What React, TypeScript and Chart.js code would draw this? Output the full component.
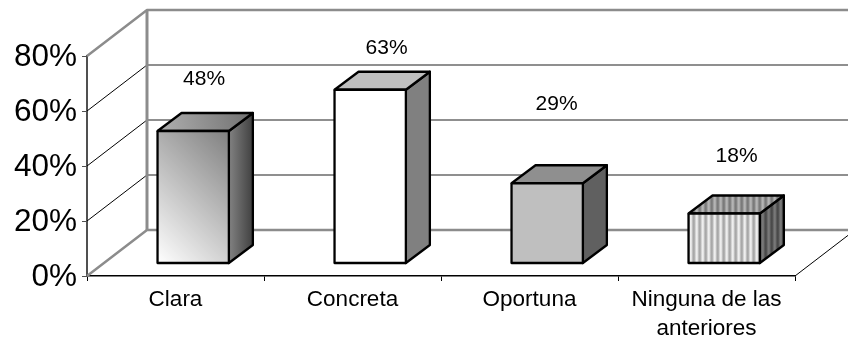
import { useEffect, useRef } from "react";
import { Chart, registerables } from "chart.js";

Chart.register(...registerables);

const categories = ["Clara", "Concreta", "Oportuna", ["Ninguna de las", "anteriores"]];
const values = [48, 63, 29, 18];
const valueLabels = ["48%", "63%", "29%", "18%"];
const yTicks = [0, 20, 40, 60, 80];

// Hand-placed offsets of the value captions, measured from each bar's front top-left corner.
const captionDx = [46.5, 52, 45, 48];
const captionDy = [-52, -42, -79, -57];

const FONT = '"Liberation Sans", Arial, sans-serif';
const WALL = { dx: 60, dy: -46 };
const BAR_SHIFT = { dx: 17.7, dy: -13 };
const BAR_DEPTH = { dx: 24, dy: -18 };
const CATEGORY_SHARE = 0.403;
const EDGE_WIDTH = 2.3;

type Ctx = CanvasRenderingContext2D;
type Box = { l: number; r: number; t: number; b: number };
type Fill = string | CanvasGradient | CanvasPattern;

function stripes(ctx: Ctx, a: string, b: string, c: string): CanvasPattern {
  const tile = document.createElement("canvas");
  tile.width = 6;
  tile.height = 1;
  const t = tile.getContext("2d")!;
  [a, a, b, c, c, b].forEach((color, i) => {
    t.fillStyle = color;
    t.fillRect(i, 0, 1, 1);
  });
  return ctx.createPattern(tile, "repeat")!;
}

function frontFill(ctx: Ctx, i: number, box: Box): Fill {
  if (i === 0) {
    const reach = (box.r - box.l + box.b - box.t) / 2;
    const g = ctx.createLinearGradient(box.l, box.b, box.l + reach, box.b - reach);
    g.addColorStop(0, "#ffffff");
    g.addColorStop(1, "#808080");
    return g;
  }
  if (i === 1) return "#ffffff";
  if (i === 2) return "#bfbfbf";
  return stripes(ctx, "#eeeeee", "#c8c8c8", "#a8a8a8");
}

function topFill(ctx: Ctx, i: number, box: Box): Fill {
  if (i === 0) {
    const g = ctx.createLinearGradient(box.l, box.t, box.r + BAR_DEPTH.dx, box.t + BAR_DEPTH.dy);
    g.addColorStop(0, "#b0b0b0");
    g.addColorStop(1, "#707070");
    return g;
  }
  if (i === 1) return "#bfbfbf";
  if (i === 2) return "#8f8f8f";
  return stripes(ctx, "#b4b4b4", "#959595", "#7a7a7a");
}

function sideFill(ctx: Ctx, i: number, box: Box): Fill {
  if (i === 0) {
    const g = ctx.createLinearGradient(box.r, 0, box.r + BAR_DEPTH.dx, 0);
    g.addColorStop(0, "#828282");
    g.addColorStop(1, "#404040");
    return g;
  }
  if (i === 1) return "#808080";
  if (i === 2) return "#606060";
  return stripes(ctx, "#787878", "#606060", "#4a4a4a");
}

function polygon(ctx: Ctx, pts: number[][], fill: Fill | null, stroke: string, width: number) {
  ctx.beginPath();
  pts.forEach(([x, y], i) => (i ? ctx.lineTo(x, y) : ctx.moveTo(x, y)));
  if (fill) {
    ctx.closePath();
    ctx.fillStyle = fill;
    ctx.fill();
  }
  ctx.lineWidth = width;
  ctx.strokeStyle = stroke;
  ctx.lineJoin = "round";
  ctx.stroke();
}

// Bar rectangle in canvas pixels, taken from the chart's own scales.
function boxFromScales(chart: any, i: number): Box {
  const { x, y } = chart.scales;
  const cx = x.getPixelForValue(i);
  const half = (x.width / categories.length) * CATEGORY_SHARE / 2;
  return { l: cx - half, r: cx + half, t: y.getPixelForValue(values[i]), b: y.getPixelForValue(0) };
}

// The back wall, side wall and floor edges, derived from the value scale.
const wallsPlugin = {
  id: "walls",
  beforeDatasetsDraw(chart: any) {
    const { ctx, scales, chartArea, width } = chart;
    const y = scales.y;
    const left = chartArea.left;
    const right = chartArea.right;
    const backLeft = left + WALL.dx;

    ctx.save();
    yTicks.forEach((v) => {
      const py = y.getPixelForValue(v);
      if (v !== 0 && v !== 80) {
        polygon(ctx, [[left, py], [backLeft, py + WALL.dy]], null, "#000000", 1);
        polygon(ctx, [[backLeft, py + WALL.dy], [width, py + WALL.dy]], null, "#6a6a6a", 1.5);
      }
    });
    const y0 = y.getPixelForValue(0);
    const y80 = y.getPixelForValue(80);
    polygon(ctx, [[left, y80], [backLeft, y80 + WALL.dy], [width, y80 + WALL.dy]], null, "#8c8c8c", 2.5);
    polygon(ctx, [[left, y0], [backLeft, y0 + WALL.dy], [width, y0 + WALL.dy]], null, "#8c8c8c", 2.5);
    polygon(ctx, [[backLeft, y80 + WALL.dy], [backLeft, y0 + WALL.dy]], null, "#8c8c8c", 3);
    polygon(ctx, [[right, y0], [width, y0 - ((width - right) * 46) / 60]], null, "#000000", 1);
    ctx.restore();
  },
};

// Draws the depth faces of every bar and moves the library's bars back onto the floor.
const depthPlugin = {
  id: "depth",
  beforeDatasetDraw(chart: any, args: any) {
    const { ctx } = chart;
    const { dx, dy } = BAR_DEPTH;
    ctx.save();
    ctx.translate(BAR_SHIFT.dx, BAR_SHIFT.dy);
    args.meta.data.forEach((_el: any, i: number) => {
      const box = boxFromScales(chart, i);
      polygon(ctx, [[box.r, box.t], [box.r + dx, box.t + dy], [box.r + dx, box.b + dy], [box.r, box.b]], sideFill(ctx, i, box), "#000000", EDGE_WIDTH);
      polygon(ctx, [[box.l, box.t], [box.l + dx, box.t + dy], [box.r + dx, box.t + dy], [box.r, box.t]], topFill(ctx, i, box), "#000000", EDGE_WIDTH);
    });
  },
  afterDatasetDraw(chart: any, args: any) {
    const { ctx } = chart;
    args.meta.data.forEach((_el: any, i: number) => {
      const box = boxFromScales(chart, i);
      polygon(ctx, [[box.l, box.t], [box.r, box.t], [box.r, box.b], [box.l, box.b], [box.l, box.t]], null, "#000000", EDGE_WIDTH);
    });
    ctx.restore();
    ctx.save();
    ctx.fillStyle = "#000000";
    ctx.font = `21px ${FONT}`;
    ctx.textAlign = "center";
    ctx.textBaseline = "middle";
    args.meta.data.forEach((_el: any, i: number) => {
      const box = boxFromScales(chart, i);
      ctx.fillText(valueLabels[i], box.l + BAR_SHIFT.dx + captionDx[i], box.t + BAR_SHIFT.dy + captionDy[i]);
    });
    ctx.restore();
  },
};

export default function App() {
  const ref = useRef<HTMLCanvasElement>(null);

  useEffect(() => {
    const chart = new Chart(ref.current!, {
      type: "bar",
      data: {
        labels: categories as any,
        datasets: [
          {
            data: values,
            barPercentage: 1,
            categoryPercentage: CATEGORY_SHARE,
            borderWidth: 0,
            clip: false as any,
            backgroundColor: (c: any) => {
              if (c.type !== "data") return "#ffffff";
              const box = boxFromScales(c.chart, c.dataIndex);
              if (![box.l, box.r, box.t, box.b].every(Number.isFinite)) return "#ffffff";
              return frontFill(c.chart.ctx, c.dataIndex, box);
            },
          },
        ],
      },
      options: {
        responsive: false,
        animation: false,
        layout: { padding: { top: 56, right: 53, left: 0, bottom: 0 } },
        plugins: { legend: { display: false }, tooltip: { enabled: false } },
        scales: {
          x: {
            afterFit: (s: any) => {
              s.height = 63;
            },
            border: { color: "#000000", width: 1.5 },
            grid: { drawOnChartArea: false, color: "#000000", tickLength: 5, offset: true },
            ticks: {
              color: "#000000",
              maxRotation: 0,
              autoSkip: false,
              font: { family: FONT, size: 22.5, lineHeight: 1.29 },
              padding: 4,
            },
          },
          y: {
            min: 0,
            max: 80,
            afterFit: (s: any) => {
              s.width = 87;
            },
            afterBuildTicks: (s: any) => {
              s.ticks = yTicks.map((value) => ({ value }));
            },
            border: { color: "#505050", width: 2 },
            grid: { drawOnChartArea: false, color: "#505050", tickLength: 5 },
            ticks: {
              color: "#000000",
              font: { family: FONT, size: 31.5 },
              padding: 5,
              labelOffset: 1.5,
              callback: (v: any) => `${v}%`,
            },
          },
        },
      },
      plugins: [wallsPlugin, depthPlugin],
    } as any);
    return () => chart.destroy();
  }, []);

  return (
    <canvas
      ref={ref}
      width={848}
      height={339}
      style={{ position: "absolute", left: 0, top: 0, width: 848, height: 339, background: "#ffffff" }}
    />
  );
}
